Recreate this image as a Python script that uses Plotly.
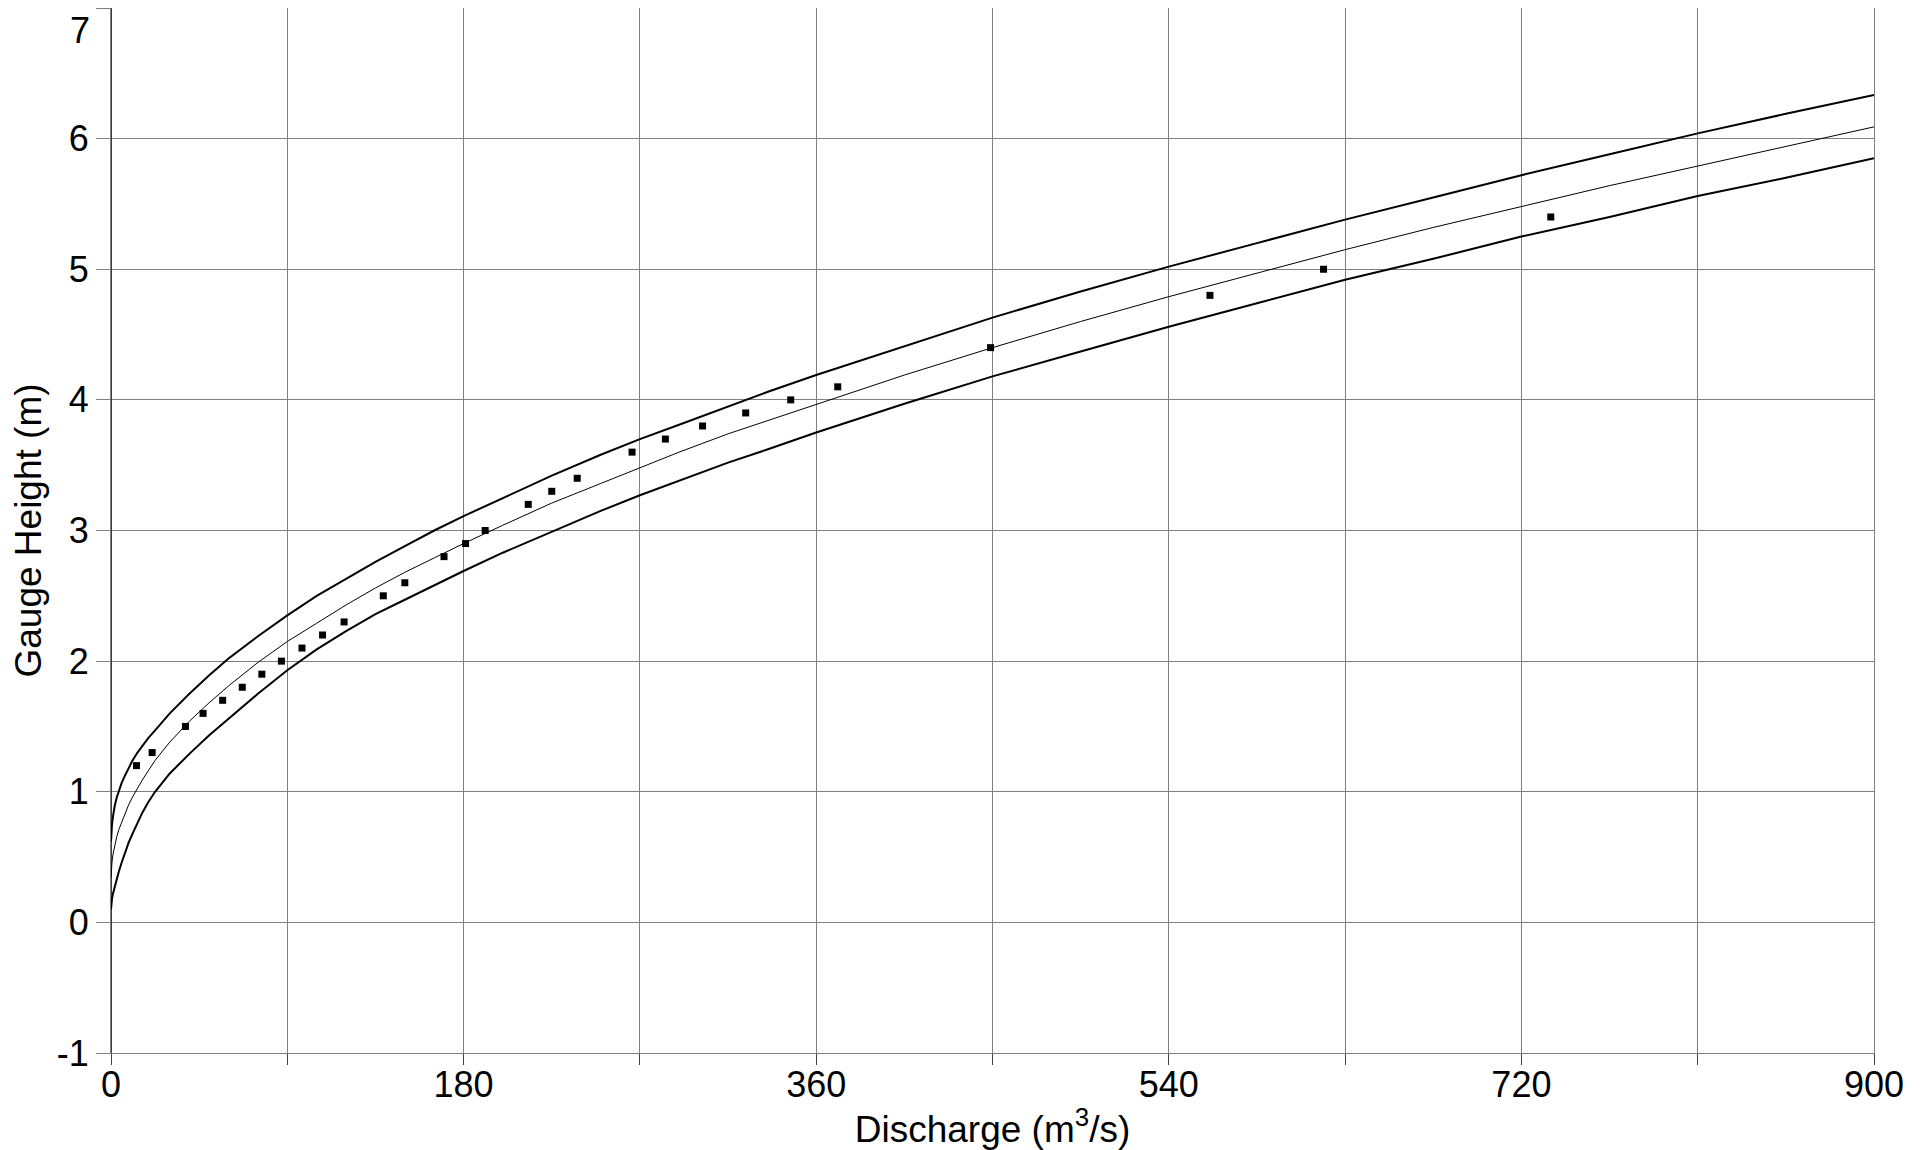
import plotly.graph_objects as go

# Observed gauge readings
obs_discharge = [13, 21, 38, 47, 57, 67, 77, 87, 97.5, 108, 119, 139, 150, 170, 181, 191,
                 213, 225, 238, 266, 283, 302, 324, 347, 371, 449, 561, 619, 735]
obs_height = [1.2, 1.3, 1.5, 1.6, 1.7, 1.8, 1.9, 2.0, 2.1, 2.2, 2.3, 2.5, 2.6, 2.8, 2.9, 3.0,
              3.2, 3.3, 3.4, 3.6, 3.7, 3.8, 3.9, 4.0, 4.1, 4.4, 4.8, 5.0, 5.4]

# Rating curve and its bands
curve_discharge = [0, 0.25, 0.5, 1, 1.5, 2, 3, 4, 5.5, 7, 9, 11, 13.5, 16, 19, 22.5, 30, 40,
                   50, 60, 75, 90, 105, 120, 135, 150, 165, 180, 200, 225, 250, 270, 290,
                   315, 335, 360, 405, 450, 495, 540, 585, 630, 675, 720, 765, 810, 855, 900]
curve_upper = [0.62, 0.70, 0.75, 0.81, 0.86, 0.90, 0.96, 1.01, 1.07, 1.12, 1.18, 1.24, 1.30,
               1.35, 1.41, 1.47, 1.60, 1.75, 1.89, 2.02, 2.19, 2.35, 2.50, 2.63, 2.76, 2.88,
               3.00, 3.11, 3.25, 3.42, 3.58, 3.70, 3.81, 3.95, 4.06, 4.19, 4.41, 4.63, 4.83,
               5.02, 5.20, 5.38, 5.55, 5.72, 5.88, 6.04, 6.19, 6.335]
curve_center = [0.34, 0.42, 0.46, 0.52, 0.56, 0.60, 0.66, 0.71, 0.77, 0.83, 0.90, 0.96, 1.03,
                1.09, 1.16, 1.24, 1.38, 1.54, 1.68, 1.81, 1.99, 2.15, 2.29, 2.43, 2.56, 2.68,
                2.79, 2.90, 3.04, 3.21, 3.36, 3.48, 3.60, 3.74, 3.84, 3.97, 4.19, 4.40, 4.60,
                4.79, 4.97, 5.15, 5.32, 5.48, 5.64, 5.79, 5.94, 6.09]
curve_lower = [0.10, 0.15, 0.18, 0.22, 0.25, 0.28, 0.34, 0.39, 0.46, 0.53, 0.61, 0.68, 0.76,
               0.84, 0.92, 1.00, 1.14, 1.29, 1.43, 1.56, 1.75, 1.93, 2.09, 2.23, 2.36, 2.47,
               2.58, 2.69, 2.83, 2.99, 3.15, 3.27, 3.38, 3.52, 3.62, 3.75, 3.97, 4.18, 4.37,
               4.56, 4.74, 4.92, 5.08, 5.25, 5.40, 5.56, 5.70, 5.85]

x_tickvals = [0, 180, 360, 540, 720, 900]
x_ticktext = ["0", "180", "360", "540", "720", "900"]
x_minor_vals = [90, 270, 450, 630, 810]
y_tickvals = [-1, 0, 1, 2, 3, 4, 5, 6]
y_ticktext = ["-1", "0", "1", "2", "3", "4", "5", "6"]
y_top_label = "7"
y_max = 7

fig = go.Figure()
fig.add_trace(go.Scatter(x=curve_discharge, y=curve_upper, mode="lines",
                         line=dict(color="black", width=2)))
fig.add_trace(go.Scatter(x=curve_discharge, y=curve_center, mode="lines",
                         line=dict(color="black", width=1)))
fig.add_trace(go.Scatter(x=curve_discharge, y=curve_lower, mode="lines",
                         line=dict(color="black", width=2)))
fig.add_trace(go.Scatter(x=obs_discharge, y=obs_height, mode="markers",
                         marker=dict(symbol="square", size=7, color="black")))

tick_font = dict(family="Liberation Sans, Arial, sans-serif", size=36, color="black")
title_font = dict(family="Liberation Sans, Arial, sans-serif", size=37, color="black")
fig.update_layout(
    width=1922, height=1142,
    margin=dict(l=103, r=56, t=0, b=97),
    plot_bgcolor="white", paper_bgcolor="white",
    showlegend=False,
    font=tick_font,
)
fig.update_xaxes(
    range=[0, 900], tickvals=x_tickvals, ticktext=x_ticktext,
    showgrid=True, gridcolor="#808080", gridwidth=1,
    ticks="outside", ticklen=11, tickcolor="#404040", tickwidth=1,
    minor=dict(tickvals=x_minor_vals, ticks="outside", ticklen=11, tickcolor="#404040",
               showgrid=True, gridcolor="#808080", gridwidth=1),
    showline=True, linecolor="#808080", linewidth=1, mirror=True,
    zeroline=False, automargin=False, ticklabeloverflow="allow",
    ticklabelstandoff=-11,
    title=dict(text="Discharge (m<sup>3</sup>/s)", font=title_font, standoff=14),
    tickfont=tick_font,
)
fig.update_yaxes(
    range=[-1, y_max], tickvals=y_tickvals, ticktext=y_ticktext,
    showgrid=True, gridcolor="#808080", gridwidth=1,
    ticks="outside", ticklen=14, tickcolor="#808080", tickwidth=1,
    minor=dict(tickvals=[y_max], ticks="outside", ticklen=14, tickcolor="#808080"),
    showline=True, linecolor="#808080", linewidth=1, mirror=True,
    zeroline=False, automargin=False, ticklabeloverflow="allow",
    title=dict(text="Gauge Height (m)", font=title_font, standoff=6),
    tickfont=tick_font,
)
# top tick label, kept inside the page as in the reference
fig.add_annotation(text=y_top_label, xref="paper", x=0, yref="y", y=y_max,
                   xanchor="right", yanchor="top", xshift=-19, yshift=0,
                   showarrow=False, font=tick_font)
# black left axis line
fig.add_shape(type="line", xref="x", yref="paper", x0=0, x1=0, y0=0, y1=1,
              line=dict(color="black", width=1.5))
fig.write_html("out.html")
